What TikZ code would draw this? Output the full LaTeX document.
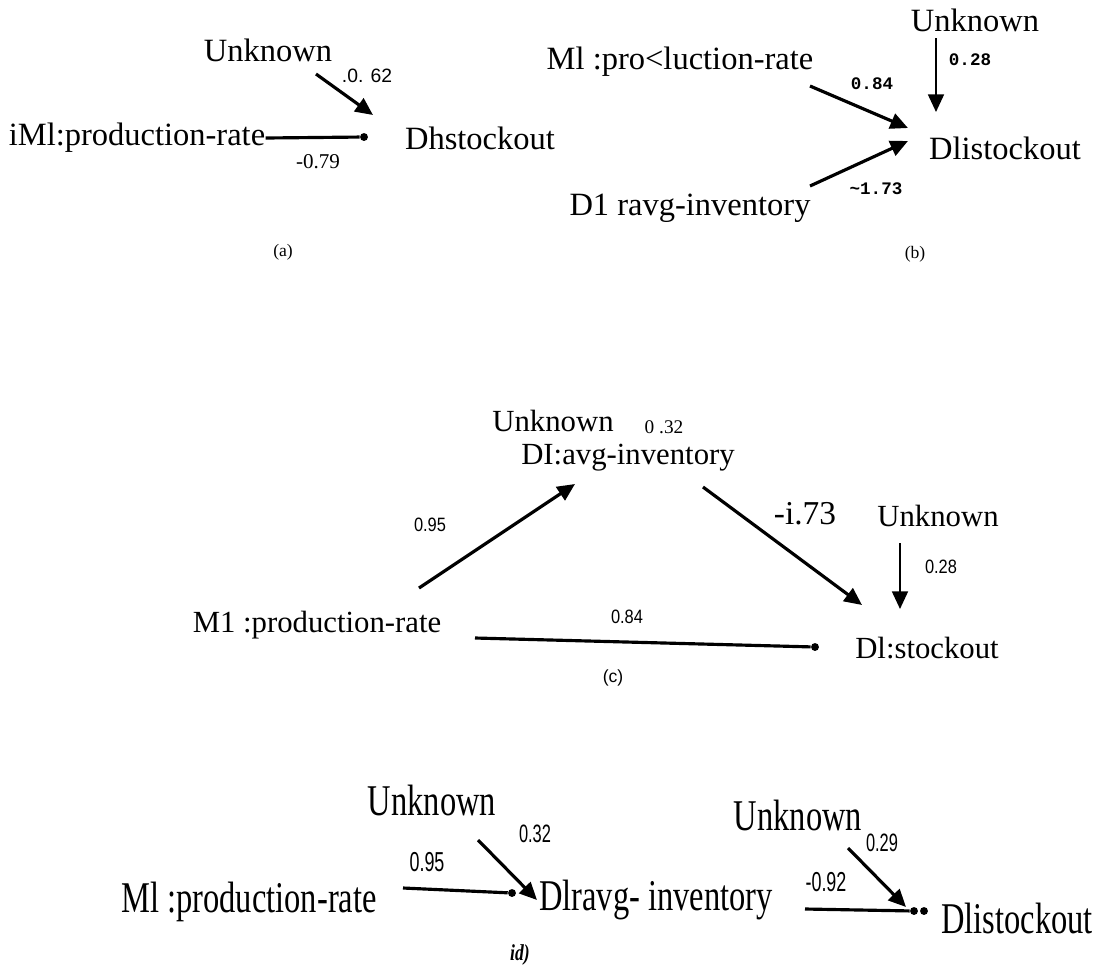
\documentclass[tikz,border=0pt]{standalone}
\usepackage{fontspec}
\setmainfont{Liberation Serif}
\newfontfamily\wtsans{Liberation Sans}
\newfontfamily\wtmono{Liberation Mono}
\usepackage{tikz}
\usetikzlibrary{arrows.meta, positioning, calc}

\tikzset{
    varname/.style={inner sep=0pt, font=\fontsize{18.5}{20}\selectfont},
    bigname/.style={inner sep=0pt, font=\fontsize{17.5}{20}\selectfont},
    tallname/.style={inner sep=0pt, yscale=1.35, font=\fontsize{18.5}{20}\selectfont},
    wtlbl/.style={inner sep=0pt, font=\wtsans\fontsize{11}{13}\selectfont},
    wtmonolbl/.style={inner sep=0pt, font=\wtmono\bfseries\fontsize{10}{12}\selectfont},
    caplbl/.style={inner sep=0pt, font=\fontsize{10}{12}\selectfont},
    pathedge/.style={line width=1.8pt, -{Triangle[length=10pt,width=9pt]}},
    thinedge/.style={line width=1.2pt, -{Triangle[length=10pt,width=9pt]}},
    plainedge/.style={line width=1.8pt},
    enddot/.style={circle, fill=black, inner sep=0pt, minimum size=4.5pt}
}

\begin{document}
\begin{tikzpicture}[x=0.02cm, y=-0.02cm]
    \useasboundingbox (0,0) rectangle (1099,968);

    % (a)
    \node[varname] (a-unk) at (268,50) {Unknown};
    \node[varname] (a-src) at (137,138) {iMl:production-rate};
    \node[varname] (a-tgt) at (480,138) {Dhstockout};
    \coordinate (a-u0) at (316,74);
    \coordinate (a-u1) at (373,115);
    \draw[pathedge] (a-u0) -- (a-u1);
    \node[wtlbl] (a-w1) at (367,76) {.0. 62};
    \node[enddot] (a-dot) at (364,137) {};
    \draw[plainedge] (a-src.east) -- (a-dot);
    \node[caplbl, font=\fontsize{12}{14}\selectfont] (a-w2) at (318,162) {-0.79};
    \node[caplbl] (a-cap) at (283,252) {(a)};

    % (b)
    \node[varname] (b-unk) at (975,20) {Unknown};
    \node[varname] (b-m1) at (680,62) {Ml :pro<luction-rate};
    \node[varname] (b-tgt) at (1005,148) {Dlistockout};
    \node[varname] (b-d1) at (690,208) {D1 ravg-inventory};
    \coordinate (b-u0) at (936,38);
    \coordinate (b-u1) at (936,112);
    \draw[thinedge] (b-u0) -- (b-u1);
    \node[wtmonolbl] (b-w0) at (970,60) {0.28};
    \coordinate (b-m0) at (810,86);
    \coordinate (b-m1e) at (908,128);
    \draw[pathedge] (b-m0) -- (b-m1e);
    \node[wtmonolbl] (b-w1) at (872,84) {0.84};
    \coordinate (b-d0) at (810,186);
    \coordinate (b-d1e) at (908,141);
    \draw[pathedge] (b-d0) -- (b-d1e);
    \node[wtmonolbl] (b-w2) at (876,189) {\textasciitilde1.73};
    \node[caplbl] (b-cap) at (915,254) {(b)};

    % (c)
    \node[bigname] (c-top) at (553,421) {Unknown};
    \node[caplbl, font=\fontsize{11}{13}\selectfont] (c-topw) at (664,427) {0 .32};
    \node[bigname] (c-inv) at (628,458) {DI:avg-inventory};
    \node[bigname] (c-unk) at (938,516) {Unknown};
    \node[bigname] (c-m1) at (317,625) {M1 :production-rate};
    \node[bigname] (c-tgt) at (927,648) {Dl:stockout};
    \coordinate (c-a0) at (419,588);
    \coordinate (c-a1) at (575,484);
    \draw[pathedge] (c-a0) -- (c-a1);
    \node[wtlbl, xscale=0.85] (c-w1) at (430,525) {0.95};
    \coordinate (c-b0) at (703,487);
    \coordinate (c-b1) at (862,605);
    \draw[pathedge] (c-b0) -- (c-b1);
    \node[inner sep=0pt, font=\fontsize{19}{21}\selectfont] (c-w2) at (805,514) {-i.73};
    \coordinate (c-u0) at (900,543);
    \coordinate (c-u1) at (900,609);
    \draw[thinedge] (c-u0) -- (c-u1);
    \node[wtlbl, xscale=0.85] (c-w3) at (941,567) {0.28};
    \coordinate (c-l0) at (475,638);
    \node[enddot] (c-dot) at (815,647) {};
    \draw[plainedge] (c-l0) -- (c-dot);
    \node[wtlbl, xscale=0.85] (c-w4) at (627,617) {0.84};
    \node[wtlbl, font=\wtsans\fontsize{10}{12}\selectfont] (c-cap) at (613,678) {(c)};

    % (d)
    \node[tallname] (d-unk1) at (432,800) {Unknown};
    \node[tallname] (d-m1) at (249,902) {Ml :production-rate};
    \node[tallname] (d-inv) at (656,900) {Dlravg- inventory};
    \node[tallname] (d-unk2) at (798,815) {Unknown};
    \node[tallname] (d-tgt) at (1017,918) {Dlistockout};
    \coordinate (d-a0) at (478,840);
    \coordinate (d-a1) at (537,900);
    \draw[pathedge] (d-a0) -- (d-a1);
    \node[wtlbl, xscale=0.85, yscale=1.3] (d-w1) at (535,834) {0.32};
    \coordinate (d-l0) at (403,888);
    \node[enddot] (d-dot1) at (512,893) {};
    \draw[plainedge] (d-l0) -- (d-dot1);
    \node[wtlbl, xscale=0.85, yscale=1.3, font=\wtsans\fontsize{12}{14}\selectfont] (d-w2) at (427,862) {0.95};
    \coordinate (d-b0) at (848,848);
    \coordinate (d-b1) at (906,907);
    \draw[pathedge] (d-b0) -- (d-b1);
    \node[wtlbl, xscale=0.85, yscale=1.3] (d-w3) at (882,843) {0.29};
    \coordinate (d-l1) at (805,909);
    \node[enddot] (d-dot2) at (914,911) {};
    \node[enddot] (d-dot3) at (924,911) {};
    \draw[plainedge] (d-l1) -- (d-dot2);
    \node[wtlbl, xscale=0.85, yscale=1.3, font=\wtsans\fontsize{12}{14}\selectfont] (d-w4) at (826,882) {-0.92};
    \node[caplbl, yscale=1.3, font=\bfseries\itshape\fontsize{10}{12}\selectfont] (d-cap) at (520,955) {id)};
\end{tikzpicture}
\end{document}
